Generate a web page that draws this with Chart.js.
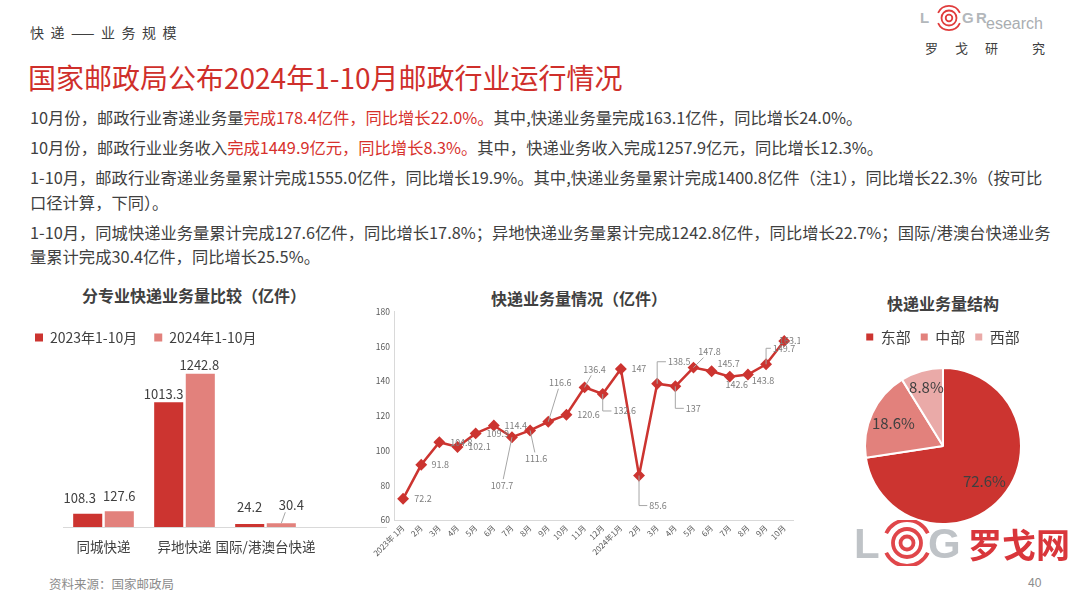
<!DOCTYPE html>
<html><head><meta charset="utf-8">
<script src="https://cdn.jsdelivr.net/npm/chart.js@4.4.1/dist/chart.umd.min.js"></script>
<style>
body{margin:0;width:1080px;height:598px;background:#fff;position:relative;overflow:hidden;font-family:"Noto Sans CJK SC","Noto Sans",sans-serif;color:#404040}
.a{position:absolute;white-space:nowrap;line-height:1}
.r{color:#d7312c}
.t{font-size:16.3px}
.h{font-size:16px;font-weight:bold;transform:translateX(-50%)}
canvas{position:absolute}
</style></head><body>
<div class="a" style="left:30px;top:25px;font-size:14px;letter-spacing:6.5px">快递——业务规模</div>
<div class="a" style="left:28px;top:63px;font-size:28px;color:#cf2f2b">国家邮政局公布2024年1-10月邮政行业运行情况</div>

<div class="a t" style="left:30px;top:109px">10月份，邮政行业寄递业务量<span class="r">完成178.4亿件，同比增长22.0%。</span>其中,快递业务量完成163.1亿件，同比增长24.0%。</div>
<div class="a t" style="left:30px;top:139px">10月份，邮政行业业务收入<span class="r">完成1449.9亿元，同比增长8.3%。</span>其中，快递业务收入完成1257.9亿元，同比增长12.3%。</div>
<div class="a t" style="left:30px;top:169px">1-10月，邮政行业寄递业务量累计完成1555.0亿件，同比增长19.9%。其中,快递业务量累计完成1400.8亿件（注1），同比增长22.3%（按可比</div>
<div class="a t" style="left:30px;top:194px">口径计算，下同）。</div>
<div class="a t" style="left:30px;top:224px">1-10月，同城快递业务量累计完成127.6亿件，同比增长17.8%；异地快递业务量累计完成1242.8亿件，同比增长22.7%；国际/港澳台快递业务</div>
<div class="a t" style="left:30px;top:248px">量累计完成30.4亿件，同比增长25.5%。</div>

<div class="a h" style="left:194px;top:287px">分专业快递业务量比较（亿件）</div>
<div class="a h" style="left:579px;top:290px">快递业务量情况（亿件）</div>
<div class="a h" style="left:943px;top:295px">快递业务量结构</div>

<canvas id="bar" width="380" height="257" style="left:10px;top:310px"></canvas>
<canvas id="line" width="440" height="290" style="left:360px;top:300px"></canvas>
<canvas id="pie" width="246" height="228" style="left:820px;top:310px"></canvas>

<div class="a" style="left:49px;top:578px;font-size:12.5px;color:#8c8c8c">资料来源：国家邮政局</div>
<div class="a" style="left:1028px;top:577px;font-size:12px;color:#8c8c8c;font-family:'Liberation Sans',sans-serif">40</div>

<svg class="a" style="left:915px;top:3px" width="150" height="60">
  <g font-family="Liberation Sans, Arial" font-weight="bold" fill="#b3b7bb" font-size="15">
    <text x="5" y="20">L</text><text x="47" y="20">G</text><text x="61" y="20">R</text>
  </g>
  <text x="71" y="26" font-size="16" fill="#a9adb1" font-family="Liberation Sans, Arial">esearch</text>
  <g fill="none" stroke="#e03c3c" stroke-width="1.8">
    <path d="M23.1 9.9 A12 12 0 0 1 44.9 9.9"/><path d="M23.1 20.1 A12 12 0 0 0 44.9 20.1"/>
    <circle cx="34" cy="15" r="7.5"/><circle cx="34" cy="15" r="3.3"/>
  </g>
  <g font-size="13" fill="#404040" font-family="Noto Sans CJK SC">
    <text x="10" y="50">罗</text><text x="40" y="50">戈</text><text x="70" y="50">研</text><text x="117" y="50">究</text>
  </g>
</svg>

<svg class="a" style="left:850px;top:520px" width="230" height="46">
  <g font-family="Liberation Sans, Arial" font-weight="bold" fill="#bfc3c7" font-size="42">
    <text x="4" y="38">L</text><text x="78" y="38">G</text>
  </g>
  <g fill="none" stroke="#e0464a" stroke-width="3.8">
    <path d="M36.2 13.3 A23 23 0 0 1 77.8 13.3"/><path d="M36.2 32.7 A23 23 0 0 0 77.8 32.7"/>
    <circle cx="57" cy="23" r="14"/><circle cx="57" cy="23" r="6.5"/>
  </g>
  <text x="118" y="38" font-size="34" font-weight="bold" fill="#d9363b" font-family="Noto Sans CJK SC">罗戈网</text>
</svg>

<script>
const RED = '#cc3430', PINK = '#e2817c', LIGHT = '#eaaaa8', GRAY = '#595959';
Chart.defaults.font.family = '"Noto Sans CJK SC","Noto Sans",sans-serif';
Chart.defaults.color = '#404040';

// 分专业快递业务量
const segments = ['同城快递', '异地快递', '国际/港澳台快递'];
const vol2023 = [108.3, 1013.3, 24.2];
const vol2024 = [127.6, 1242.8, 30.4];

// 快递业务量月度
const months = ['2023年 1月','2月','3月','4月','5月','6月','7月','8月','9月','10月','11月','12月',
  '2024年1月','2月','3月','4月','5月','6月','7月','8月','9月','10月'];
const volume = [72.2, 91.8, 104.8, 102.1, 109.9, 114.4, 107.7, 111.6, 116.6, 120.6, 136.4, 132.6,
  147, 85.6, 138.5, 137, 147.8, 145.7, 142.6, 143.8, 149.7, 163.1];
const yTicks = [60, 80, 100, 120, 140, 160, 180];

// 区域结构
const regions = ['东部', '中部', '西部'];
const shares = [72.6, 18.6, 8.8];

// label placement: [dx, dy, leader] leader 0 none, 1 straight, 2 elbow
const lineLabelPos = [[20,0,0],[19,0,0],[22,0,0],[22,0,0],[22,0,0],[22,0,0],[-10,48,1],[6,28,1],[12,-39,1],[22,0,0],
  [10,-18,1],[22,17,2],[18,0,0],[19,30,2],[22,-22,2],[18,22,2],[16,-16,1],[17,-8,0],[7,8,0],[15,6,0],[18,-16,2],[6,0,0]];
const barLabelPos = [[[-8,9],[-5,2],[0,10]], [[0,9],[-1,2],[10,12]]];

const lineLabels = {
  id: 'lineLabels',
  afterDatasetsDraw(chart) {
    const ctx = chart.ctx, pts = chart.getDatasetMeta(0).data;
    ctx.save();
    ctx.font = '9px "Noto Sans CJK SC"';
    ctx.textAlign = 'center'; ctx.textBaseline = 'middle';
    ctx.strokeStyle = '#a6a6a6'; ctx.lineWidth = 1;
    pts.forEach((p, i) => {
      const [dx, dy, kind] = lineLabelPos[i];
      const txt = String(volume[i]);
      const w = ctx.measureText(txt).width, lx = p.x + dx, ly = p.y + dy;
      if (kind === 1) {
        const hw = w / 2 + 2, hh = 6;
        const t = Math.min(Math.abs(dx) > 0 ? hw / Math.abs(dx) : 9, Math.abs(dy) > 0 ? hh / Math.abs(dy) : 9);
        ctx.beginPath(); ctx.moveTo(p.x, p.y); ctx.lineTo(lx - dx * t, ly - dy * t); ctx.stroke();
      } else if (kind === 2) {
        ctx.beginPath(); ctx.moveTo(p.x, p.y); ctx.lineTo(p.x, ly); ctx.lineTo(lx - w / 2 - 2, ly); ctx.stroke();
      }
      ctx.fillStyle = '#7f7f7f';
      ctx.fillText(txt, lx, ly);
    });
    ctx.restore();
  }
};

const barLabels = {
  id: 'barLabels',
  beforeDatasetsDraw(chart) {
    const {ctx, chartArea: a} = chart;
    ctx.save(); ctx.strokeStyle = '#d9d9d9'; ctx.lineWidth = 1;
    ctx.beginPath(); ctx.moveTo(a.left, a.bottom + 0.5); ctx.lineTo(a.left + 324, a.bottom + 0.5); ctx.stroke();
    ctx.restore();
  },
  afterDatasetsDraw(chart) {
    const ctx = chart.ctx;
    ctx.save();
    ctx.font = '13px "Noto Sans CJK SC"'; ctx.fillStyle = '#404040';
    ctx.textAlign = 'center'; ctx.textBaseline = 'bottom';
    chart.data.datasets.forEach((ds, d) => {
      chart.getDatasetMeta(d).data.forEach((b, i) => {
        const [dx, lift] = barLabelPos[d][i];
        if (dx > 5) {
          ctx.strokeStyle = '#a6a6a6'; ctx.lineWidth = 1;
          ctx.beginPath(); ctx.moveTo(b.x, b.y); ctx.lineTo(b.x + dx - 6, b.y - lift + 1); ctx.stroke();
        }
        ctx.fillText(String(ds.data[i]), b.x + dx, b.y - lift);
      });
    });
    ctx.restore();
  }
};

const pieLabels = {
  id: 'pieLabels',
  afterDatasetsDraw(chart) {
    const ctx = chart.ctx;
    ctx.save();
    ctx.font = '15px "Noto Sans CJK SC"'; ctx.fillStyle = '#404040';
    ctx.textAlign = 'center'; ctx.textBaseline = 'middle';
    chart.getDatasetMeta(0).data.forEach((arc, i) => {
      const {x, y, startAngle, endAngle, outerRadius} = arc.getProps(['x','y','startAngle','endAngle','outerRadius'], true);
      const m = (startAngle + endAngle) / 2, r = outerRadius * (i === 2 ? 0.78 : 0.7);
      ctx.fillText(shares[i].toFixed(1) + '%', x + Math.cos(m) * r, y + Math.sin(m) * r);
    });
    ctx.restore();
  }
};

new Chart(document.getElementById('bar'), {
  type: 'bar',
  data: {labels: segments, datasets: [
    {label: '2023年1-10月', data: vol2023, backgroundColor: RED},
    {label: '2024年1-10月', data: vol2024, backgroundColor: PINK}]},
  options: {
    responsive: false, animation: false,
    layout: {padding: {left: 8, right: 84, top: 3.5, bottom: 0}},
    datasets: {bar: {categoryPercentage: 0.78, barPercentage: 0.92}},
    plugins: {tooltip: {enabled: false},
      legend: {align: 'start', labels: {boxWidth: 8, boxHeight: 8, padding: 17, font: {size: 14}, color: '#404040'}}},
    scales: {
      x: {grid: {display: false, drawTicks: false}, border: {display: false},
        ticks: {autoSkip: false, minRotation: 0, maxRotation: 0, font: {size: 13.5}, color: '#404040', padding: 12},
        afterFit(s) { s.height = 40; }},
      y: {min: 0, max: 1400, ticks: {display: false}, grid: {display: false, drawTicks: false},
        border: {display: false}, afterFit(s) { s.width = 45; }}
    }
  },
  plugins: [barLabels]
});

new Chart(document.getElementById('line'), {
  type: 'line',
  data: {labels: months, datasets: [{data: volume, borderColor: RED, backgroundColor: RED, borderWidth: 2.5,
    pointStyle: 'rectRot', pointRadius: 4.2, pointBackgroundColor: RED, pointBorderColor: RED, tension: 0}]},
  options: {
    responsive: false, animation: false,
    layout: {padding: {top: 11.7, right: 5, left: 0, bottom: 0}},
    plugins: {legend: {display: false}, tooltip: {enabled: false}},
    scales: {
      x: {offset: true, grid: {display: false, drawTicks: false}, border: {color: '#d9d9d9'},
        ticks: {autoSkip: false, minRotation: 45, maxRotation: 45, font: {size: 8}, color: GRAY, padding: 3},
        afterFit(s) { s.height = 70; }},
      y: {min: yTicks[0], max: yTicks[yTicks.length - 1], grid: {display: false, drawTicks: false}, border: {color: '#d9d9d9'},
        ticks: {stepSize: 20, font: {size: 8.5}, color: GRAY, padding: 4},
        afterBuildTicks(s) { s.ticks = yTicks.map(v => ({value: v})); },
        afterFit(s) { s.width = 34; }}
    }
  },
  plugins: [lineLabels]
});

new Chart(document.getElementById('pie'), {
  type: 'pie',
  data: {labels: regions, datasets: [{data: shares, backgroundColor: [RED, PINK, LIGHT], borderColor: '#fff', borderWidth: 2}]},
  options: {
    responsive: false, animation: false, radius: 78,
    layout: {padding: {left: 0, right: 0, top: 9.5, bottom: 0.5}},
    plugins: {tooltip: {enabled: false},
      legend: {labels: {boxWidth: 7, boxHeight: 7, padding: 10, font: {size: 15}, color: '#404040',
        generateLabels: c => Chart.overrides.pie.plugins.legend.labels.generateLabels(c).map(l => ({...l, lineWidth: 0}))}}}
  },
  plugins: [pieLabels]
});
</script>
</body></html>
